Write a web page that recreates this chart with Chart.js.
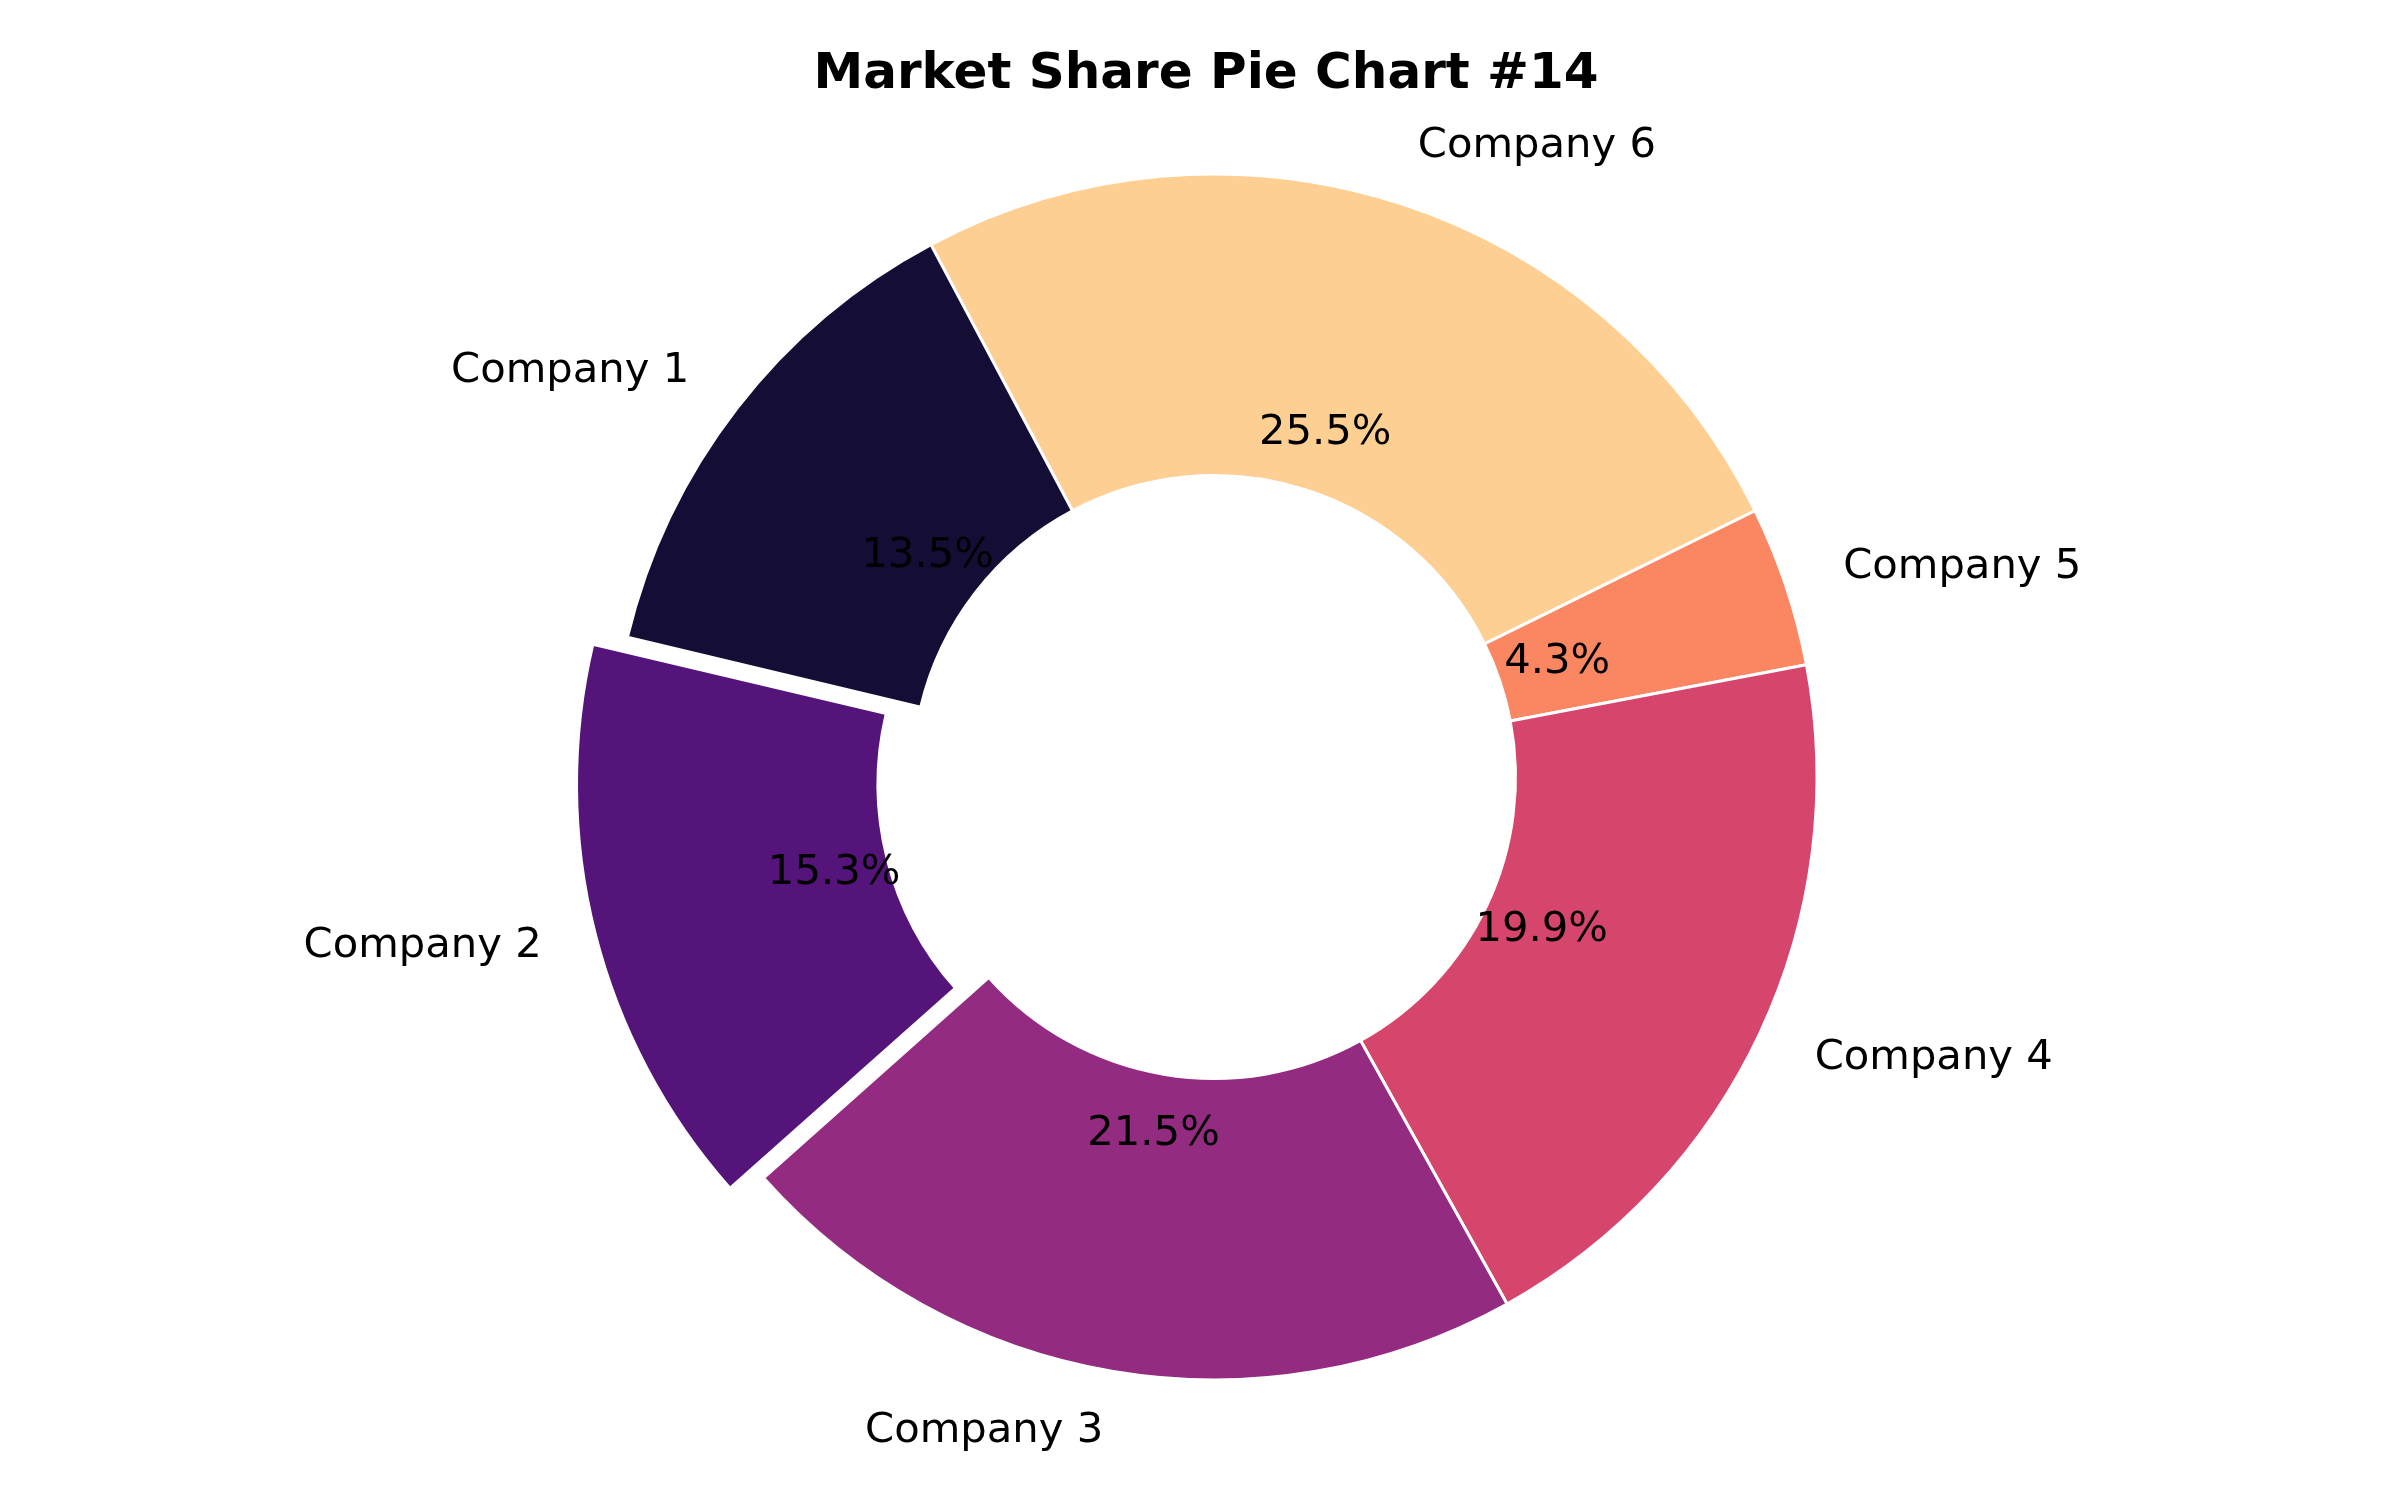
<!DOCTYPE html>
<html>
<head>
<meta charset="utf-8">
<script src="https://cdn.jsdelivr.net/npm/chart.js@4.4.1/dist/chart.umd.min.js"></script>
<style>
  body { margin: 0; background: #fff; }
  #wrap { width: 2400px; height: 1500px; }
</style>
</head>
<body>
<div id="wrap"><canvas id="pieChart"></canvas></div>
<script>
var companies = ['Company 1', 'Company 2', 'Company 3', 'Company 4', 'Company 5', 'Company 6'];
var shares = [13.5, 15.3, 21.5, 19.9, 4.3, 25.5];
var colours = ['#140e36', '#541479', '#932b80', '#d6456c', '#fa8662', '#fdcf92'];
var explode = [0, 120, 0, 0, 0, 0];
var chartTitle = 'Market Share Pie Chart #14';

var FONT = "'DejaVu Sans', 'Liberation Sans', sans-serif";
var LABEL_SIZE = 41.7;
var OFFSET_DIV = 4;   // arc element translates by offset / 4

// matplotlib goes counter-clockwise, Chart.js clockwise: feed it reversed
var labelsRev = companies.slice().reverse();
var sharesRev = shares.slice().reverse();
var coloursRev = colours.slice().reverse();
var explodeRev = explode.slice().reverse();

var pieText = {
  id: 'pieText',
  afterDatasetsDraw: function (chart) {
    var ctx = chart.ctx;
    var meta = chart.getDatasetMeta(0);
    ctx.save();
    ctx.fillStyle = '#000';
    ctx.font = LABEL_SIZE + 'px ' + FONT;
    ctx.textBaseline = 'alphabetic';
    meta.data.forEach(function (arc, i) {
      var p = arc.getProps(['x', 'y', 'startAngle', 'endAngle', 'outerRadius'], true);
      var mid = (p.startAngle + p.endAngle) / 2;
      var shift = (explodeRev[i] || 0) / OFFSET_DIV;
      var c = Math.cos(mid), s = Math.sin(mid);
      var dy = 0.262 * LABEL_SIZE;

      var rl = p.outerRadius * 1.1 + shift;
      ctx.textAlign = c > 0 ? 'left' : 'right';
      ctx.fillText(labelsRev[i], p.x + c * rl, p.y + s * rl + dy);

      var rp = p.outerRadius * 0.6 + shift;
      ctx.textAlign = 'center';
      ctx.fillText(sharesRev[i].toFixed(1) + '%', p.x + c * rp, p.y + s * rp + dy);
    });

    ctx.font = 'bold 50px ' + FONT;
    ctx.textAlign = 'center';
    ctx.fillText(chartTitle, 1206, 88);
    ctx.restore();
  }
};

var ctx = document.getElementById('pieChart');
var myChart = new Chart(ctx, {
  type: 'doughnut',
  data: {
    labels: labelsRev,
    datasets: [{
      data: sharesRev,
      backgroundColor: coloursRev,
      borderColor: '#ffffff',
      borderWidth: 3,
      offset: explodeRev
    }]
  },
  options: {
    responsive: true,
    maintainAspectRatio: false,
    devicePixelRatio: 1,
    animation: false,
    events: [],
    rotation: -28,
    radius: 603,
    cutout: '50%',
    layout: { padding: { left: 28, right: 0, top: 54, bottom: 0 } },
    plugins: {
      legend: { display: false },
      title: { display: false },
      tooltip: { enabled: false }
    }
  },
  plugins: [pieText]
});
</script>
</body>
</html>
